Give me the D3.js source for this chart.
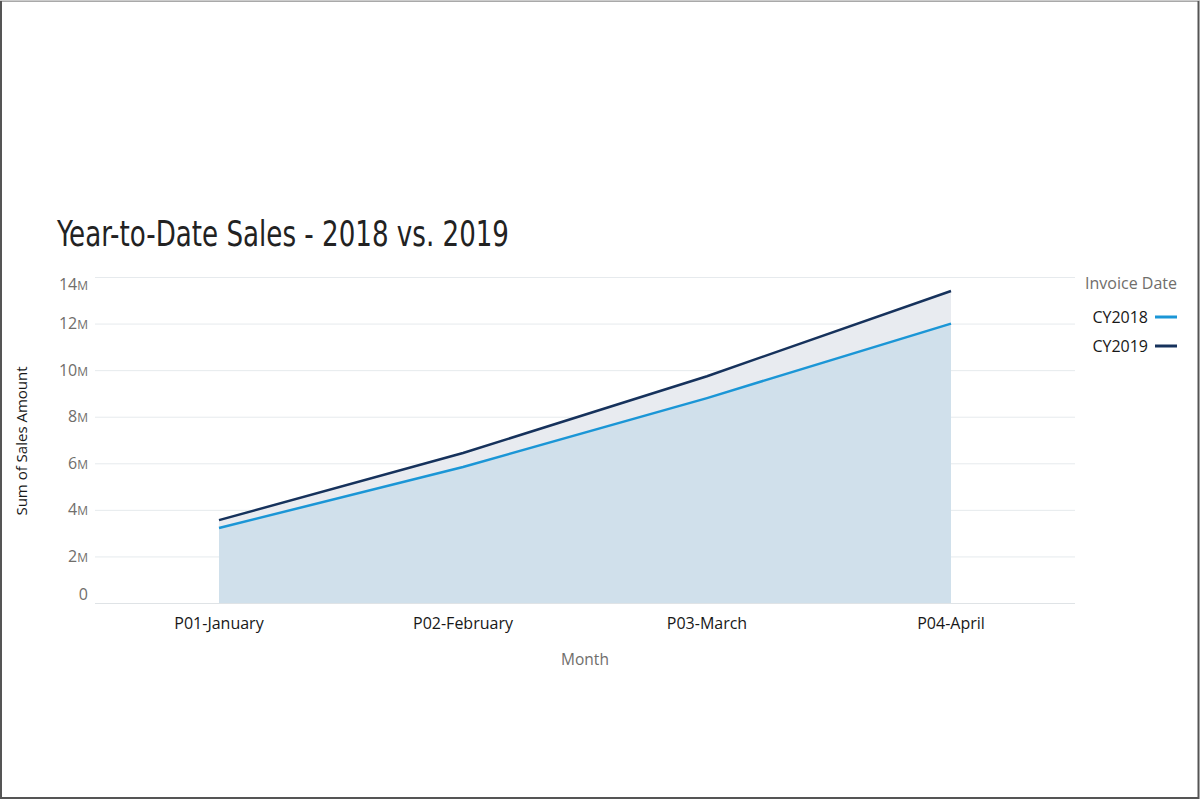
<!DOCTYPE html>
<html>
<head>
<meta charset="utf-8">
<script src="https://cdn.jsdelivr.net/npm/d3@7"></script>
<style>
  html, body { margin: 0; padding: 0; background: #fff; }
  svg { display: block; }
  text { font-family: "Open Sans", Lato, sans-serif; }
</style>
</head>
<body>
<svg id="chart" width="1200" height="800"></svg>
<script>
const months = ["P01-January", "P02-February", "P03-March", "P04-April"];
const cy2018 = [3.22, 5.84, 8.8, 12.0];   // millions
const cy2019 = [3.56, 6.44, 9.74, 13.4];  // millions
const yTicks = [0, 2, 4, 6, 8, 10, 12, 14];
const seriesNames = ["CY2018", "CY2019"];
const seriesColors = ["#1b96d6", "#16325c"];

const svg = d3.select("#chart");

// frame
svg.append("rect").attr("x", 1).attr("y", 0.5).attr("width", 1197.5).attr("height", 797.5)
  .attr("fill", "none").attr("stroke", "#555").attr("stroke-width", 2);
svg.append("line").attr("x1", 0).attr("x2", 1200).attr("y1", 0.5).attr("y2", 0.5)
  .attr("stroke", "#ccc").attr("stroke-width", 1);

const x = d3.scalePoint().domain(months).range([97, 1073]).padding(0.5);
const y = d3.scaleLinear().domain([0, 14]).range([603, 277]);

// title
svg.append("text").attr("x", 57).attr("y", 246)
  .style("font-family", "'Liberation Sans Narrow', 'DejaVu Sans Condensed', sans-serif")
  .attr("font-size", 35).attr("fill", "#222")
  .attr("textLength", 452).attr("lengthAdjust", "spacingAndGlyphs")
  .text("Year-to-Date Sales - 2018 vs. 2019");

// grid
const grid = svg.append("g");
grid.selectAll("line").data(yTicks).join("line")
  .attr("x1", 95).attr("x2", 1075)
  .attr("y1", d => y(d) + 0.5).attr("y2", d => y(d) + 0.5)
  .attr("stroke", d => d === 0 ? "#dfe3e6" : "#e6eaed").attr("stroke-width", 1);

// y tick labels (kept inside the plot band at the extremes)
const yl = svg.append("g");
const t = yl.selectAll("text").data(yTicks).join("text")
  .attr("x", 88).attr("y", d => Math.max(284, Math.min(594, y(d))))
  .attr("dy", "0.35em")
  .attr("text-anchor", "end").attr("font-size", 16).attr("fill", "#706e6b");
t.text(d => d === 0 ? "0" : d);
t.filter(d => d !== 0).append("tspan").attr("font-size", 12).text("M");

// areas
const area = vals => d3.area()
  .x((d, i) => x(months[i])).y0(y(0)).y1(d => y(d))(vals);
svg.append("path").attr("d", area(cy2019)).attr("fill", "#e8ebf0");
svg.append("path").attr("d", area(cy2018)).attr("fill", "#d0e0eb");

// lines
const line = vals => d3.line().x((d, i) => x(months[i])).y(d => y(d))(vals);
svg.append("path").attr("d", line(cy2019)).attr("fill", "none")
  .attr("stroke", seriesColors[1]).attr("stroke-width", 2.5);
svg.append("path").attr("d", line(cy2018)).attr("fill", "none")
  .attr("stroke", seriesColors[0]).attr("stroke-width", 2.5);

// x labels
svg.append("g").selectAll("text").data(months).join("text")
  .attr("x", d => x(d)).attr("y", 629).attr("text-anchor", "middle")
  .attr("font-size", 16).attr("fill", "#181818").text(d => d);

svg.append("text").attr("x", 585).attr("y", 665).attr("text-anchor", "middle")
  .attr("font-size", 15.5).attr("fill", "#706e6b").text("Month");

svg.append("text").attr("transform", "translate(27,441) rotate(-90)")
  .attr("text-anchor", "middle").attr("font-size", 15).attr("fill", "#181818")
  .text("Sum of Sales Amount");

// legend
svg.append("text").attr("x", 1177).attr("y", 289).attr("text-anchor", "end")
  .attr("font-size", 16).attr("fill", "#706e6b").text("Invoice Date");
const lg = svg.append("g").selectAll("g").data(seriesNames).join("g")
  .attr("transform", (d, i) => `translate(0,${317 + i * 29})`);
lg.append("text").attr("x", 1148).attr("y", 6).attr("text-anchor", "end")
  .attr("font-size", 16).attr("fill", "#181818").text(d => d);
lg.append("line").attr("x1", 1155).attr("x2", 1177).attr("y1", 0).attr("y2", 0)
  .attr("stroke", (d, i) => seriesColors[i]).attr("stroke-width", 3);
</script>
</body>
</html>
